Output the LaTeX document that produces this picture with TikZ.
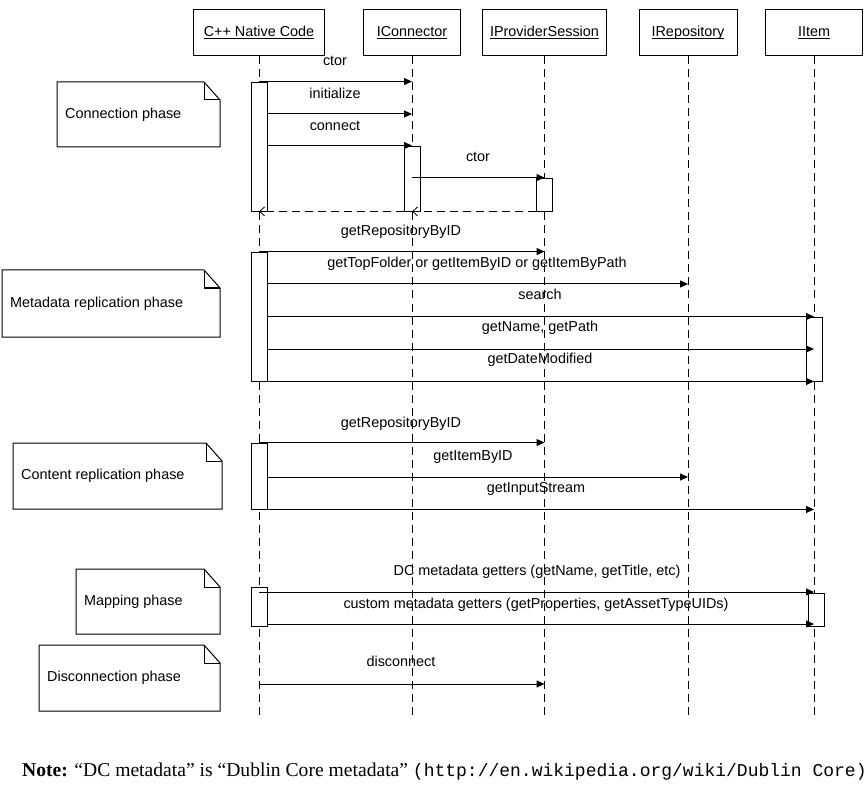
\documentclass[tikz,border=0pt]{standalone}
\usepackage{fontspec}
\setmainfont{Liberation Sans}
\newfontfamily\footserif{Liberation Serif}
\newfontfamily\footmono{Liberation Mono}
\usetikzlibrary{arrows.meta}
\tikzset{
  obj/.style={draw,line width=1pt,minimum width=#1,minimum height=46pt,inner sep=0pt,font=\fontsize{14.4}{16}\selectfont},
  life/.style={line width=0.8pt,dash pattern=on 8pt off 5pt},
  act/.style={draw,fill=white,line width=0.9pt,minimum width=16pt,minimum height=#1,inner sep=0pt},
  msg/.style={line width=1pt,-{Triangle[length=8pt,width=7pt]}},
  ret/.style={line width=0.8pt,dash pattern=on 8pt off 5pt,-{Straight Barb[length=5pt,width=9pt]}},
  lbl/.style={font=\fontsize{14.4}{16}\selectfont,inner sep=0pt,text height=10pt,text depth=3pt},
  phase/.style={font=\fontsize{14.4}{16}\selectfont,inner sep=0pt,anchor=west}
}
\newcommand\objname[1]{\underline{\vphantom{C}\smash{#1}}}
\newcommand\phasenote[6]{%
  \draw[line width=1pt] (#1,#2) -- (#3-16,#2) -- (#3,#2+18) -- (#3,#4) -- (#1,#4) -- cycle;
  \draw[line width=1pt] (#3-16,#2) -- (#3-16,#2+18) -- (#3,#2+18);
  \node[phase] (#5) at (#1+8,{(#2+#4)/2}) {#6};}

\begin{document}
\begin{tikzpicture}[x=1pt,y=-1pt]
  \useasboundingbox (0,0) rectangle (867,786);
  \node[obj=131pt] (native) at (259,33) {\objname{C++ Native Code}};
  \node[obj=97pt] (conn) at (412,33) {\objname{IConnector}};
  \node[obj=124pt] (sess) at (544.5,33) {\objname{IProviderSession}};
  \node[obj=98pt] (repo) at (688,33) {\objname{IRepository}};
  \node[obj=97pt] (item) at (814,33) {\objname{IItem}};
  \foreach \n in {native,conn,sess,repo,item}
    \draw[life] (\n.south) -- (\n |- 0,715);

  \phasenote{57}{82}{220}{147}{connphase}{Connection phase}
  \phasenote{2}{270}{220}{337}{metaphase}{Metadata replication phase}
  \phasenote{13}{443}{222}{509}{contentphase}{Content replication phase}
  \phasenote{76}{569}{220}{634}{mapphase}{Mapping phase}
  \phasenote{39}{645}{220}{711}{disconnphase}{Disconnection phase}

  \node[act=129pt] (a1) at (259,146.5) {};
  \node[act=65pt] (a2) at (412,178.5) {};
  \node[act=33pt] (a3) at (544.5,194.5) {};
  \node[act=129pt] (a4) at (259,316.5) {};
  \node[act=64pt] (a5) at (814,349) {};
  \node[act=66pt] (a6) at (259,476) {};
  \node[act=39pt] (a7) at (259,606.5) {};
  \node[act=33pt] (a8) at (816,609.5) {};

  \draw[msg] (a1.north) -- (conn |- a1.north);
  \draw[msg] (a1.east |- 0,114) -- (conn |- 0,114);
  \draw[msg] (a1.east |- a2.north) -- (a2.north);
  \draw[msg] (conn |- a3.north) -- (a3.north);
  \draw[ret] (a3.south west) -- (a2.south);
  \draw[ret] (a2.south west) -- (a1.south);
  \node[lbl] (ctorA) at (335,62) {ctor};
  \node[lbl] (initialize) at (335,95) {initialize};
  \node[lbl] (connect) at (335,127) {connect};
  \node[lbl] (ctorB) at (478,158) {ctor};

  \draw[msg] (a4.north) -- (sess |- a4.north);
  \draw[msg] (a4.east |- 0,284) -- (repo |- 0,284);
  \draw[msg] (a4.east |- a5.north) -- (a5.north);
  \draw[msg] (a4.east |- 0,349) -- (item |- 0,349);
  \draw[msg] (a4.south east) -- (item |- a4.south);
  \node[lbl] (getrepoA) at (401,232) {getRepositoryByID};
  \node[lbl] (gettop) at (477,264) {getTopFolder or getItemByID or getItemByPath};
  \node[lbl] (search) at (540,296) {search};
  \node[lbl] (getname) at (540,328) {getName, getPath};
  \node[lbl] (getdate) at (540,360) {getDateModified};

  \draw[msg] (a6.north) -- (sess |- a6.north);
  \draw[msg] (a6.east |- 0,477) -- (repo |- 0,477);
  \draw[msg] (a6.south east) -- (item |- a6.south);
  \node[lbl] (getrepoB) at (401,424) {getRepositoryByID};
  \node[lbl] (getitem) at (473,457) {getItemByID};
  \node[lbl] (getstream) at (536,489) {getInputStream};

  \draw[msg] (native |- 0,592) -- (item |- 0,592);
  \draw[msg] (a7.east |- 0,624) -- (item |- 0,624);
  \node[lbl] (dcget) at (537,572) {DC metadata getters (getName, getTitle, etc)};
  \node[lbl] (customget) at (536,605) {custom metadata getters (getProperties, getAssetTypeUIDs)};

  \draw[msg] (native |- 0,684) -- (sess |- 0,684);
  \node[lbl] (disconnect) at (401,663) {disconnect};

  \node[anchor=base west,inner sep=0pt] (footnote) at (22,776)
    {\footserif\fontsize{19.6}{22}\selectfont\textbf{Note:} “DC metadata” is “Dublin Core metadata” {\footmono\fontsize{18}{22}\selectfont(http://en.wikipedia.org/wiki/Dublin Core)}};
\end{tikzpicture}
\end{document}
